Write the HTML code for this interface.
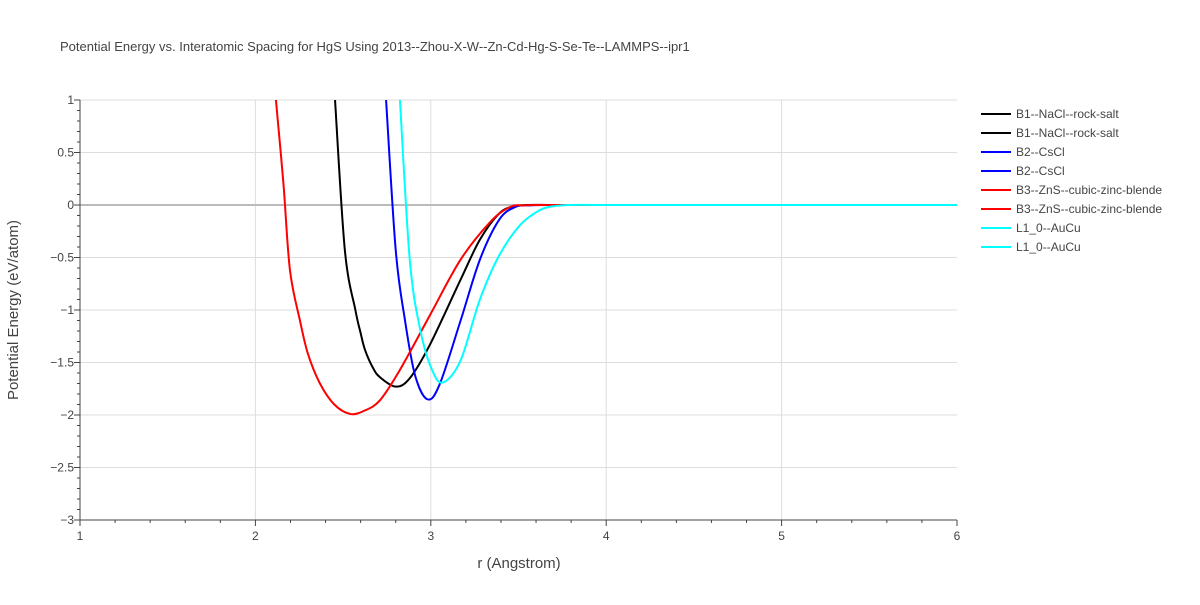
<!DOCTYPE html>
<html><head><meta charset="utf-8"><style>
body{margin:0;background:#fff;font-family:"Liberation Sans",Arial,sans-serif;}
svg text{font-family:"Liberation Sans",Arial,sans-serif;fill:#444;}
</style></head><body>
<svg id="chart" width="1200" height="600">
<rect width="1200" height="600" fill="#fff"/>
<text x="60" y="51" font-size="13">Potential Energy vs. Interatomic Spacing for HgS Using 2013--Zhou-X-W--Zn-Cd-Hg-S-Se-Te--LAMMPS--ipr1</text>
<g id="grid"></g><g id="axes"></g><g id="series"></g><g id="legend"></g>
<text x="519" y="568" font-size="15" text-anchor="middle">r (Angstrom)</text>
<text x="18" y="310" font-size="15" text-anchor="middle" transform="rotate(-90 18 310)">Potential Energy (eV/atom)</text>
</svg>
<script>
const xTicks=[1,2,3,4,5,6];
const yTicks=[1,0.5,0,-0.5,-1,-1.5,-2,-2.5,-3];
const names=["B1--NaCl--rock-salt","B2--CsCl","B3--ZnS--cubic-zinc-blende","L1_0--AuCu"];
const colors=["#000000","#0000ff","#ff0000","#00ffff"];
const b1R=[2.454,2.51,2.57,2.60,2.625,2.67,2.71,2.80,2.88,2.995,3.17,3.28,3.39,3.47,3.55,3.7,4,5,6];
const b1E=[1,-0.43,-1.0,-1.22,-1.38,-1.55,-1.64,-1.73,-1.65,-1.33,-0.71,-0.33,-0.08,-0.015,0,0,0,0,0];
const b2R=[2.745,2.80,2.853,2.91,2.98,3.05,3.17,3.28,3.39,3.48,3.56,3.7,4,5,6];
const b2E=[1,-0.43,-1.1,-1.62,-1.85,-1.71,-1.1,-0.52,-0.14,-0.02,-0.003,0,0,0,0];
const b3R=[2.117,2.16,2.197,2.254,2.30,2.368,2.45,2.54,2.62,2.71,2.824,2.995,3.17,3.34,3.45,3.53,3.65,4,5,6];
const b3E=[1,0.2,-0.62,-1.1,-1.42,-1.70,-1.90,-1.99,-1.96,-1.86,-1.57,-1.05,-0.52,-0.16,-0.02,-0.003,0,0,0,0];
const l10R=[2.824,2.88,2.94,3.007,3.07,3.17,3.28,3.39,3.51,3.62,3.70,3.80,4,5,6];
const l10E=[1,-0.52,-1.19,-1.57,-1.69,-1.48,-0.9,-0.48,-0.19,-0.05,-0.012,0,0,0,0];
const X0=80,X1=957,Y0=100,Y1=520;
const sx=r=>X0+(r-1)/(6-1)*(X1-X0);
const sy=e=>Y0+(1-e)/(1-(-3))*(Y1-Y0);
const NS="http://www.w3.org/2000/svg";
function mk(tag,attrs,parent){const el=document.createElementNS(NS,tag);for(const k in attrs)el.setAttribute(k,attrs[k]);document.getElementById(parent).appendChild(el);return el;}
xTicks.forEach(t=>{
 if(t>1&&t<6){const g=mk('line',{x1:sx(t),x2:sx(t),y1:Y0,y2:Y1,stroke:'#ddd'},'grid');
 
 }
 const tx=mk('text',{x:sx(t),y:Y1+20,'font-size':12,'text-anchor':'middle'},'axes');tx.textContent=t;
 
 
});
yTicks.forEach(t=>{
 const g=mk('line',{x1:X0,x2:X1,y1:sy(t),y2:sy(t),stroke:t===0?'#bbb':'#ddd','stroke-width':t===0?2:1},'grid');
 
 
 const tx=mk('text',{x:X0-6,y:sy(t)+4,'font-size':12,'text-anchor':'end'},'axes');tx.textContent=String(t).replace('-','\u2212');
 
 
});
for(let v=1;v<=6.001;v+=0.2){const l=mk('line',{x1:sx(v),x2:sx(v),y1:Y1,y2:Y1+(Math.abs(v-Math.round(v))<0.01?6:3),stroke:'#444'},'axes');
 
 }
for(let v=-3;v<=1.001;v+=0.1){const l=mk('line',{x1:X0-(Math.abs(v*2-Math.round(v*2))<0.01?6:3),x2:X0,y1:sy(v),y2:sy(v),stroke:'#444'},'axes');
 
 }
const xa=mk('line',{x1:X0,x2:X1,y1:Y1,y2:Y1,stroke:'#444'},'axes');


const ya=mk('line',{x1:X0,x2:X0,y1:Y0,y2:Y1,stroke:'#444'},'axes');


function pathFor(R,E){
 const p=R.map((r,i)=>[sx(r),sy(E[i])]);
 let d='M'+p[0][0]+','+p[0][1];
 for(let i=0;i<p.length-1;i++){
  const p0=p[i-1]||p[i],p1=p[i],p2=p[i+1],p3=p[i+2]||p2;
  const c1=[p1[0]+(p2[0]-p0[0])/6,p1[1]+(p2[1]-p0[1])/6];
  const c2=[p2[0]-(p3[0]-p1[0])/6,p2[1]-(p3[1]-p1[1])/6];
  d+=' C'+c1+' '+c2+' '+p2;
 }
 return d;
}
const data=[[b1R,b1E],[b2R,b2E],[b3R,b3E],[l10R,l10E]];
const cp=mk('clipPath',{id:'clip'},'series');
const cr=document.createElementNS(NS,'rect');
cr.setAttribute('x',X0);cr.setAttribute('y',Y0);cr.setAttribute('width',X1-X0);cr.setAttribute('height',Y1-Y0);
cp.appendChild(cr);
data.forEach((d,i)=>{
 const p=mk('path',{d:pathFor(d[0],d[1]),fill:'none',stroke:colors[i],'stroke-width':2,'clip-path':'url(#clip)'},'series');
 
 
});
let row=0;
names.forEach((n,i)=>{for(let k=0;k<2;k++){
 const y=114+row*19;row++;
 const l=mk('line',{x1:981,x2:1011,y1:y,y2:y,stroke:colors[i],'stroke-width':2},'legend');
 
 
 const t=mk('text',{x:1016,y:y+4,'font-size':12},'legend');t.textContent=n;
 
 
}});
</script>
</body></html>
